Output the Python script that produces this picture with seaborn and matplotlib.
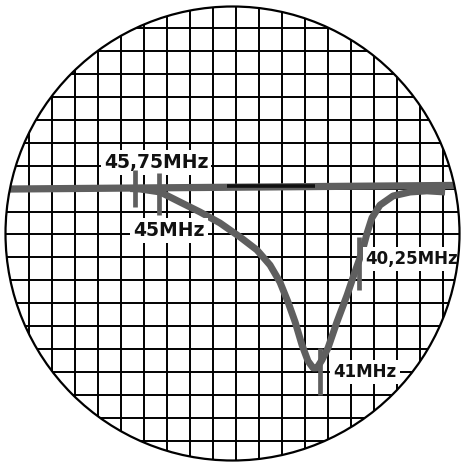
import matplotlib
matplotlib.use("Agg")
import matplotlib.pyplot as plt
import seaborn as sns
import pandas as pd
from matplotlib.patches import Ellipse

# ---- data (grid divisions; y = 0 on the zero line, negative = downward deflection) ----
baseline_x = [-1.0, 18.7]
baseline_y = [-0.02, 0.14]

curve_x = [4.40, 4.83, 5.70, 6.57, 7.43, 8.30, 9.17, 9.91, 10.48, 10.91, 11.26, 11.57,
           11.87, 12.13, 12.35, 12.52, 12.74, 13.00, 13.39, 13.83, 14.17, 14.48, 14.70,
           14.91, 15.26, 15.83, 16.57, 17.30, 18.09]
curve_y = [0.00, -0.02, -0.15, -0.59, -1.02, -1.50, -2.11, -2.68, -3.34, -4.08, -4.95, -5.82,
           -6.83, -7.53, -7.83, -7.83, -7.48, -6.96, -5.82, -4.65, -3.64, -2.77, -1.94,
           -1.28, -0.72, -0.32, -0.15, -0.10, -0.15]

dark_x = [8.61, 12.45]
dark_y = [0.13, 0.13]

marker_labels = ["45,75MHz", "45MHz", "41MHz", "40,25MHz"]
marker_x = [4.61, 5.65, 12.65, 14.35]
marker_top = [0.81, 0.68, -6.97, -2.10]
marker_bottom = [-0.80, -1.15, -9.01, -4.43]
label_x = [5.52, 6.09, 14.61, 16.65]
label_y = [1.16, -1.81, -8.02, -3.08]
label_size = [13.5, 13.5, 12.0, 12.0]

grid_x = list(range(0, 19))
grid_y = list(range(-11, 8))

circle_center = (8.848, -1.961)
XLIM = (-29 / 23, (462 - 29) / 23)
YLIM = ((188.6 - 466) / 22.9, 188.6 / 22.9)

# ---- figure ----
sns.set_theme(style="white")
plt.rcParams['font.family'] = ['DejaVu Sans']
fig = plt.figure(figsize=(4.62, 4.66), dpi=100)
fig.patch.set_facecolor("white")
ax = fig.add_axes([0, 0, 1, 1])
ax.axis("off")

circle = Ellipse(circle_center, width=2 * 227 / 23, height=2 * 227 / 22.9,
                 fill=False, edgecolor="black", lw=1.6, zorder=6)
ax.add_patch(circle)

for gx in grid_x:
    ln = ax.axvline(gx, color="black", lw=1.4, zorder=1)
    ln.set_clip_path(circle)
for gy in grid_y:
    ln = ax.axhline(gy, color="black", lw=1.4, zorder=1)
    ln.set_clip_path(circle)

trace_color = "#5f5f5f"
n0 = len(ax.lines)
sns.lineplot(x=baseline_x, y=baseline_y, ax=ax, color=trace_color, linewidth=5.2,
             sort=False, estimator=None, zorder=3)
sns.lineplot(x=curve_x, y=curve_y, ax=ax, color=trace_color, linewidth=5.0,
             sort=False, estimator=None, zorder=3)
sns.lineplot(x=dark_x, y=dark_y, ax=ax, color="#111111", linewidth=2.6,
             sort=False, estimator=None, zorder=4)
for ln in ax.lines[n0:]:
    ln.set_clip_path(circle)
    ln.set_solid_joinstyle("round")
    ln.set_solid_capstyle("butt")

ax.vlines(marker_x, marker_bottom, marker_top, color=trace_color, lw=3.4, zorder=5)

for lab, lx, ly, fs in zip(marker_labels, label_x, label_y, label_size):
    ax.text(lx, ly, lab, ha="center", va="center", fontsize=fs, fontweight="bold",
            color="#111111", zorder=4,
            bbox=dict(facecolor="white", edgecolor="none", pad=2.2))

ax.set_autoscale_on(False)
ax.set_xlim(*XLIM)
ax.set_ylim(*YLIM)
ax.axis("off")

fig.savefig("out.png", dpi=100, facecolor="white")
